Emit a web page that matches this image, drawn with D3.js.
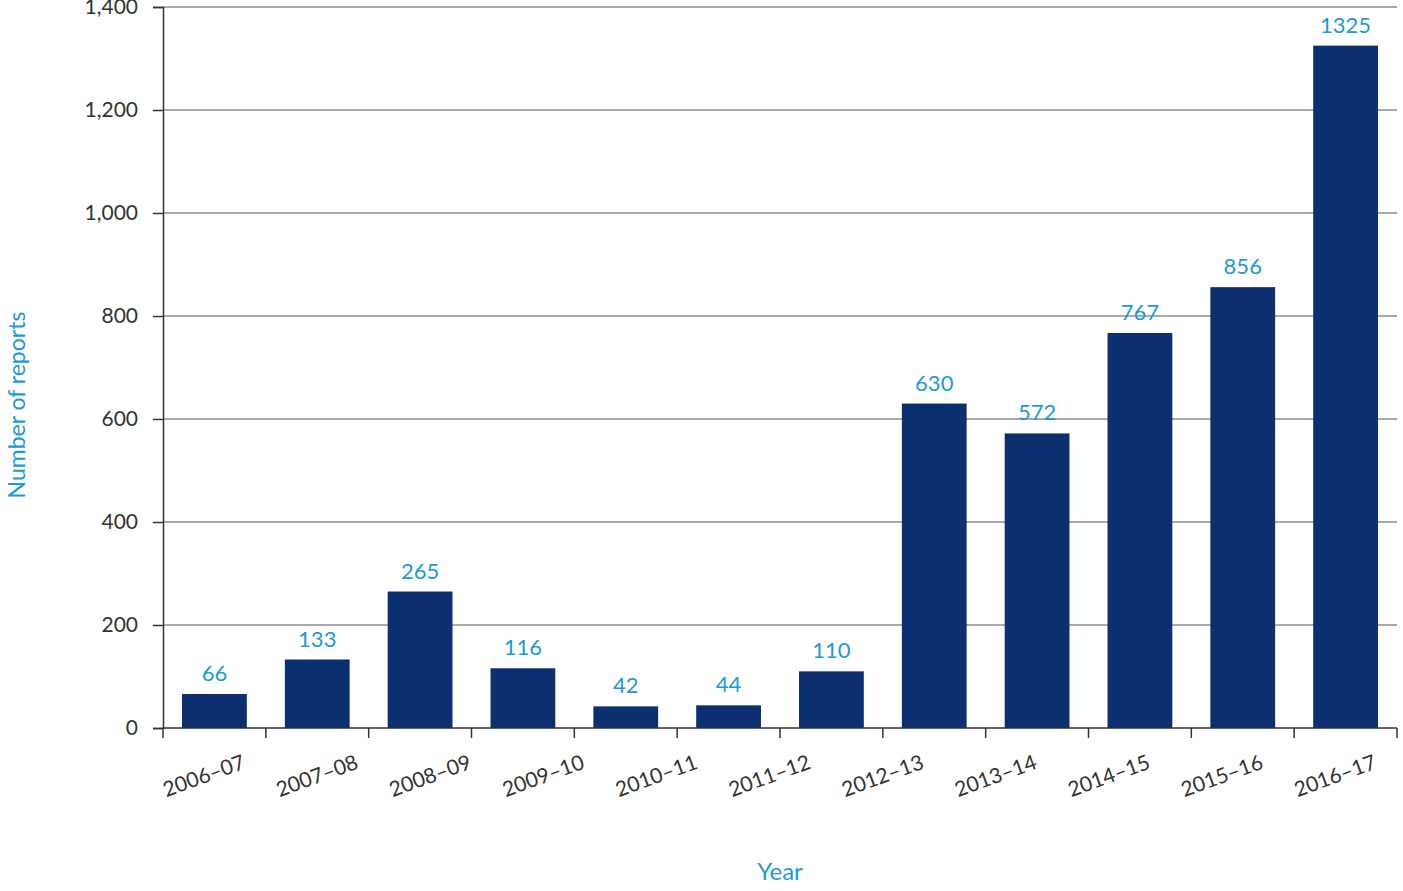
<!DOCTYPE html>
<html><head><meta charset="utf-8">
<script src="https://cdn.jsdelivr.net/npm/d3@7"></script>
<style>body{margin:0;background:#fff;font-family:Lato,"Open Sans",sans-serif}</style>
</head><body><svg></svg>
<script>
const categories = ["2006–07","2007–08","2008–09","2009–10","2010–11","2011–12","2012–13","2013–14","2014–15","2015–16","2016–17"];
const reports = [66,133,265,116,42,44,110,630,572,767,856,1325];
const yTicks = [0,200,400,600,800,1000,1200,1400];

const width = 1403, height = 891;
const svg = d3.select("svg").attr("width", width).attr("height", height);
const mLeft = 163, mRight = 1397, mTop = 7, mBottom = 728;

const idx = d3.range(reports.length);
const x = d3.scaleBand().domain(idx).range([mLeft, mRight]).paddingInner(0.37).paddingOuter(0.185);
const y = d3.scaleLinear().domain([0, 1400]).range([mBottom, mTop]);
// labels are spread evenly from first to last bar
const xl = d3.scalePoint().domain(categories)
  .range([x(0) + x.bandwidth() / 2, x(reports.length - 1) + x.bandwidth() / 2]);

// gridlines
svg.append("g").selectAll("line").data(yTicks.slice(1)).enter().append("line")
  .attr("x1", mLeft).attr("x2", mRight).attr("y1", d => y(d)).attr("y2", d => y(d))
  .attr("stroke", "#555").attr("stroke-width", 1);

// y axis
const yAxis = svg.append("g").attr("transform", `translate(${mLeft},0)`)
  .call(d3.axisLeft(y).tickValues(yTicks).tickSize(10).tickFormat(d3.format(",")));
yAxis.select(".domain").attr("stroke", "#333").attr("stroke-width", 1.5);
yAxis.selectAll(".tick line").attr("stroke", "#333").attr("stroke-width", 1.5);
yAxis.selectAll("text").attr("font-size", 21).attr("fill", "#333").attr("x", -25)
  .attr("font-family", "Lato, sans-serif");

// bars
svg.append("g").selectAll("rect").data(reports).enter().append("rect")
  .attr("x", (d, i) => x(i)).attr("width", x.bandwidth())
  .attr("y", d => y(d)).attr("height", d => mBottom - y(d))
  .attr("fill", "#0b2f6f");

// value labels
svg.append("g").selectAll("text").data(reports).enter().append("text")
  .attr("x", (d, i) => x(i) + x.bandwidth() / 2).attr("y", d => y(d) - 13)
  .attr("text-anchor", "middle").attr("font-size", 22).attr("fill", "#1b9ad6")
  .text(d => d);

// x axis
const step = x.step();
svg.append("line").attr("x1", mLeft).attr("x2", mRight).attr("y1", mBottom).attr("y2", mBottom)
  .attr("stroke", "#333").attr("stroke-width", 1.5);
svg.append("g").selectAll("line").data(d3.range(reports.length + 1)).enter().append("line")
  .attr("x1", i => mLeft + i * step).attr("x2", i => mLeft + i * step)
  .attr("y1", mBottom).attr("y2", mBottom + 10).attr("stroke", "#333").attr("stroke-width", 1.5);

svg.append("g").selectAll("text").data(categories).enter().append("text")
  .attr("transform", d => `translate(${xl(d) + 32},${mBottom + 40}) rotate(-20)`)
  .attr("text-anchor", "end").attr("font-size", 21).attr("fill", "#333").text(d => d);

// axis titles
svg.append("text").attr("transform", "translate(25,405) rotate(-90)")
  .attr("text-anchor", "middle").attr("font-size", 23).attr("fill", "#1b9ad6").text("Number of reports");
svg.append("text").attr("x", 780).attr("y", 880)
  .attr("text-anchor", "middle").attr("font-size", 24).attr("fill", "#1b9ad6").text("Year");
</script></body></html>
